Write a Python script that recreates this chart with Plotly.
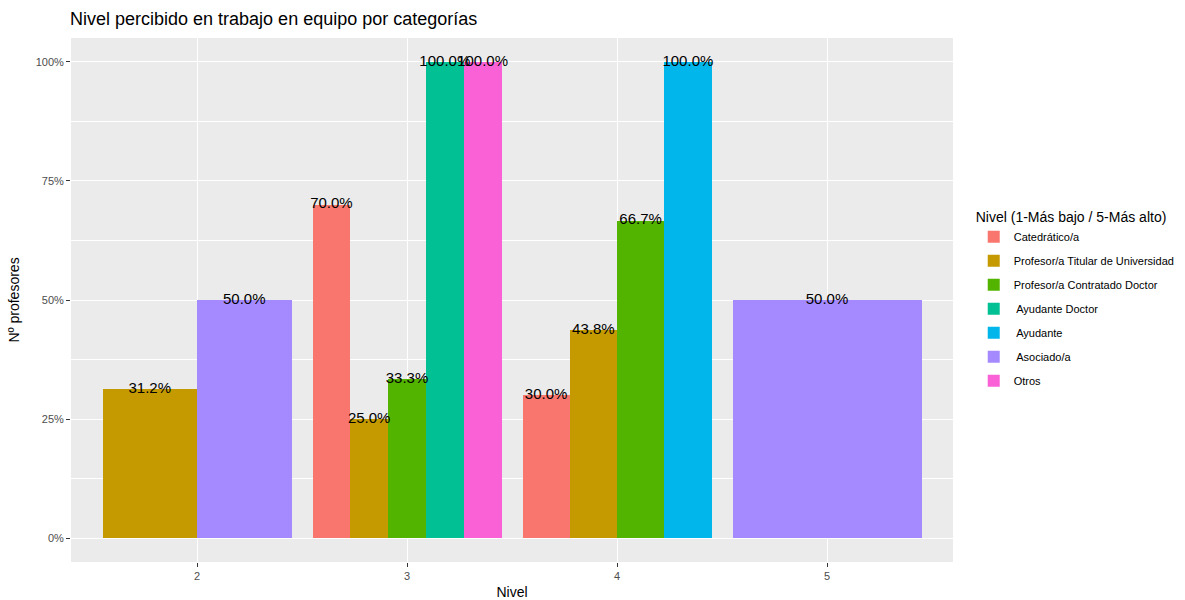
import plotly.graph_objects as go

levels = ["2", "3", "4", "5"]
categories = ["Catedrático/a", "Profesor/a Titular de Universidad", "Profesor/a Contratado Doctor",
              " Ayudante Doctor", " Ayudante", " Asociado/a", "Otros"]
colors = ["#F8766D", "#C49A00", "#53B400", "#00C094", "#00B6EB", "#A58AFF", "#FB61D7"]

catedratico = [None, 0.70, 0.30, None]
titular = [0.3125, 0.25, 0.4375, None]
contratado = [None, 0.3333, 0.6667, None]
ayudante_doctor = [None, 1.0, None, None]
ayudante = [None, None, 1.0, None]
asociado = [0.50, None, None, 0.50]
otros = [None, 1.0, None, None]

series = [catedratico, titular, contratado, ayudante_doctor, ayudante, asociado, otros]

# dodge positions (like ggplot position_dodge, total width 0.9)
present = [[s for s in range(len(series)) if series[s][li] is not None] for li in range(len(levels))]

fig = go.Figure()
text_x, text_y, text_t = [], [], []
for si, (name, col, vals) in enumerate(zip(categories, colors, series)):
    xs, ys, ws = [], [], []
    for li, v in enumerate(vals):
        if v is None:
            continue
        grp = present[li]
        n = len(grp)
        w = 0.9 / n
        k = grp.index(si)
        xc = (li + 1) - 0.45 + w * (k + 0.5)
        xs.append(xc); ys.append(v); ws.append(w)
        text_x.append(xc); text_y.append(v); text_t.append(f"{v*100:.1f}%")
    fig.add_trace(go.Bar(x=xs, y=ys, width=ws, name=name, marker=dict(color=col, line=dict(width=0)),
                         legendgroup=name, hoverinfo="skip"))

fig.add_trace(go.Scatter(x=text_x, y=text_y, text=text_t, mode="text", showlegend=False,
                         textposition="middle center", textfont=dict(size=15, color="black"),
                         cliponaxis=False, hoverinfo="skip"))

fig.update_layout(
    width=1185, height=600,
    margin=dict(l=71, r=232, t=38, b=38, autoexpand=False),
    paper_bgcolor="white", plot_bgcolor="#EBEBEB",
    font=dict(family="Liberation Sans, Arial, sans-serif", color="black"),
    barmode="overlay", bargap=0,
    title=dict(text="Nivel percibido en trabajo en equipo por categorías", x=70 / 1185, xref="container",
               xanchor="left", y=1 - 19 / 600, yref="container", yanchor="middle",
               font=dict(size=18, color="black")),
    legend=dict(title=dict(text="Nivel (1-Más bajo / 5-Más alto)", font=dict(size=14)),
                x=1.0235, xanchor="left", y=0.683, yanchor="top", font=dict(size=11),
                tracegroupgap=5, bgcolor="rgba(0,0,0,0)"),
    showlegend=True,
)
fig.update_xaxes(range=[0.4, 4.6], tickvals=[1, 2, 3, 4], ticktext=levels, showgrid=True,
                 gridcolor="white", gridwidth=1.1, zeroline=False, ticks="outside", ticklen=4,
                 tickcolor="#333333", tickfont=dict(size=11, color="#4D4D4D"), automargin=False,
                 title=dict(text="Nivel", font=dict(size=14), standoff=8))
fig.update_yaxes(range=[-0.05, 1.05], tickvals=[0, 0.25, 0.5, 0.75, 1.0], tickformat=".0%",
                 showgrid=True, gridcolor="white", gridwidth=1.1, zeroline=False, ticks="outside",
                 ticklen=4, tickcolor="#333333", tickfont=dict(size=11, color="#4D4D4D"), automargin=False,
                 minor=dict(tickvals=[0.125, 0.375, 0.625, 0.875], showgrid=True, gridcolor="white",
                            gridwidth=0.5, ticks=""),
                 title=dict(text="Nº profesores", font=dict(size=14), standoff=12))

fig.write_html("out.html", config={"displayModeBar": False},
               post_script="document.body.style.margin='0';")
